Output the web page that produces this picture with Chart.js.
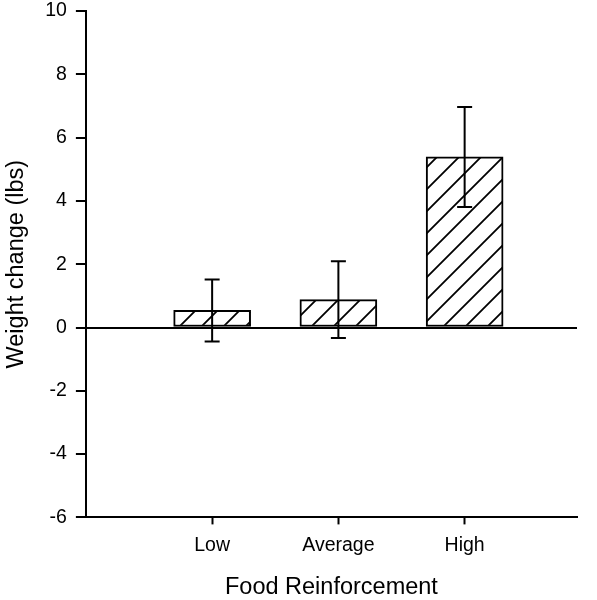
<!DOCTYPE html>
<html>
<head>
<meta charset="utf-8">
<script src="https://cdn.jsdelivr.net/npm/chart.js@4/dist/chart.umd.min.js"></script>
<style>
  html, body { margin: 0; padding: 0; background: #fff; }
  #wrap { width: 597px; height: 600px; position: relative; }
</style>
</head>
<body>
<div id="wrap"><canvas id="c"></canvas></div>
<script>
const categories = ['Low', 'Average', 'High'];
const weightChange = [0.54, 0.88, 5.39];
const errorValues = [0.98, 1.21, 1.58];
const yTickValues = [-6, -4, -2, 0, 2, 4, 6, 8, 10];

function makeHatch() {
  const s = 22;
  const c = document.createElement('canvas');
  c.width = s; c.height = s;
  const g = c.getContext('2d');
  g.fillStyle = '#fff';
  g.fillRect(0, 0, s, s);
  g.strokeStyle = '#000';
  g.lineWidth = 1.8;
  g.beginPath();
  for (const off of [-s, 0, s]) {
    g.moveTo(off - 2, s + 2);
    g.lineTo(off + s + 2, -2);
  }
  g.stroke();
  return g.createPattern(c, 'repeat');
}

const errorBarPlugin = {
  id: 'errorBars',
  afterDatasetsDraw(chart) {
    const { ctx, scales: { x, y } } = chart;
    ctx.save();
    ctx.strokeStyle = '#000';
    ctx.lineWidth = 2;
    weightChange.forEach((v, i) => {
      const px = x.getPixelForValue(i);
      const top = y.getPixelForValue(v + errorValues[i]);
      const bot = y.getPixelForValue(v - errorValues[i]);
      ctx.beginPath();
      ctx.moveTo(px, top); ctx.lineTo(px, bot);
      ctx.moveTo(px - 7.5, top); ctx.lineTo(px + 7.5, top);
      ctx.moveTo(px - 7.5, bot); ctx.lineTo(px + 7.5, bot);
      ctx.stroke();
    });
    ctx.restore();
  }
};

const font = 'Liberation Sans, Arial, sans-serif';

new Chart(document.getElementById('c'), {
  type: 'bar',
  data: {
    datasets: [{
      data: categories.map((c, i) => ({ x: i, y: weightChange[i] })),
      backgroundColor: makeHatch(),
      borderColor: '#000',
      borderWidth: 2,
      borderSkipped: false,
      barThickness: 77
    }]
  },
  options: {
    responsive: true,
    maintainAspectRatio: false,
    animation: false,
    devicePixelRatio: 1,
    layout: { padding: { left: 2, right: 20, top: 0, bottom: 0 } },
    plugins: { legend: { display: false }, tooltip: { enabled: false } },
    scales: {
      x: {
        type: 'linear',
        offset: false,
        min: -1,
        max: 2.89,
        afterBuildTicks(scale) {
          scale.ticks = categories.map((c, i) => ({ value: i }));
        },
        ticks: {
          callback: (v) => categories[v] ?? '',
          color: '#000',
          font: { family: font, size: 19.5 },
          padding: 10,
          maxRotation: 0,
          autoSkip: false
        },
        grid: { offset: false, drawOnChartArea: false, tickLength: 7, tickColor: '#000', tickWidth: 2 },
        border: { color: '#000', width: 2 },
        title: {
          display: true,
          text: 'Food Reinforcement',
          color: '#000',
          font: { family: font, size: 23.5 },
          padding: { top: 6, bottom: -2 }
        }
      },
      y: {
        min: -6,
        max: 10,
        afterBuildTicks(scale) {
          scale.ticks = yTickValues.map(v => ({ value: v }));
        },
        afterFit(scale) {
          scale.paddingTop = 11;
        },
        ticks: {
          color: '#000',
          font: { family: font, size: 19.5 },
          padding: 9
        },
        grid: {
          drawOnChartArea: true,
          color: (ctx) => (ctx.tick && ctx.tick.value === 0) ? '#000' : 'rgba(0,0,0,0)',
          lineWidth: 2,
          tickLength: 10,
          tickColor: '#000',
          tickWidth: 2
        },
        border: { color: '#000', width: 2 },
        title: {
          display: true,
          text: 'Weight change (lbs)',
          color: '#000',
          font: { family: font, size: 23.5 },
          padding: { top: 0, bottom: 6 }
        }
      }
    }
  },
  plugins: [errorBarPlugin]
});
</script>
</body>
</html>
